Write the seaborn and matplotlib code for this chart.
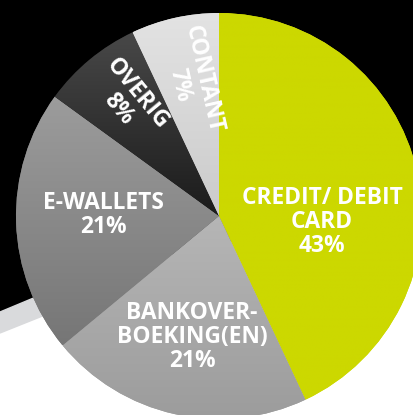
import numpy as np
import matplotlib
matplotlib.use("Agg")
import matplotlib.pyplot as plt
import seaborn as sns
from matplotlib.colors import to_rgb
from matplotlib.patches import Polygon

sns.set_theme(style="white")
plt.rcParams['font.family'] = ['Open Sans', 'DejaVu Sans']

categories = ["CREDIT/ DEBIT\nCARD", "BANKOVER-\nBOEKING(EN)", "E-WALLETS", "OVERIG", "CONTANT"]
values = [43, 21, 21, 8, 7]
pct_labels = ["43%", "21%", "21%", "8%", "7%"]

# gradient colours (top, bottom) per wedge
grad = [("#ccd800", "#ccd800"), ("#b6b6b6", "#9c9c9c"), ("#9c9c9c", "#767676"),
        ("#484848", "#1b1b1b"), ("#e3e3e3", "#cbcbcb")]

W, H = 414, 415
fig = plt.figure(figsize=(W / 100, H / 100), dpi=100)
ax = fig.add_axes([0, 0, 1, 1])
ax.set_xlim(0, W)
ax.set_ylim(0, H)
ax.set_aspect('equal')
ax.axis('off')
fig.patch.set_facecolor('white')

def Y(y):
    return H - y

# background shapes
ax.add_patch(Polygon([(0, Y(0)), (W, Y(0)), (W, Y(200)), (100, Y(270)), (0, Y(312))],
                     closed=True, color='black', zorder=0))
ax.add_patch(Polygon([(0, Y(312)), (60, Y(287)), (60, Y(309)), (0, Y(333))],
                     closed=True, color='#d9dadc', zorder=0))

cx, cy, R = 219, Y(216), 203
wedges, _ = ax.pie(values, startangle=90, counterclock=False, center=(cx, cy), radius=R,
                   colors=[g[1] for g in grad], wedgeprops=dict(linewidth=0), frame=True)
ax.set_xlim(0, W)
ax.set_ylim(0, H)
ax.axis('off')

for w, (top, bot) in zip(wedges, grad):
    t = np.array(to_rgb(top)); b = np.array(to_rgb(bot))
    bb = w.get_path().get_extents(w.get_transform() - ax.transData)
    n = 256
    s = np.linspace(0, 1, n)[:, None]
    img = (t[None, :] * (1 - s) + b[None, :] * s)[:, None, :]
    img = np.repeat(img, 2, axis=1)
    im = ax.imshow(img, extent=(bb.x0, bb.x1, bb.y0, bb.y1), origin='upper',
                   aspect='auto', zorder=2, interpolation='bilinear')
    im.set_clip_path(w)

ax.set_xlim(0, W)
ax.set_ylim(0, H)

fs = 16.4
txt = dict(color='white', fontweight='bold', fontsize=fs, ha='center', va='center',
           linespacing=1.0, zorder=5)
ax.text(322, Y(222), categories[0] + "\n" + pct_labels[0], **txt)
ax.text(192, Y(337), categories[1] + "\n" + pct_labels[1], **txt)
ax.text(103, Y(215), categories[2] + "\n" + pct_labels[2], **txt)
ax.text(128, Y(101), categories[3] + "\n" + pct_labels[3], rotation=-50.4, rotation_mode='anchor', **txt)
ax.text(192, Y(82), categories[4] + "\n" + pct_labels[4], rotation=-77.4, rotation_mode='anchor', **txt)

fig.savefig("out.png", dpi=100)
